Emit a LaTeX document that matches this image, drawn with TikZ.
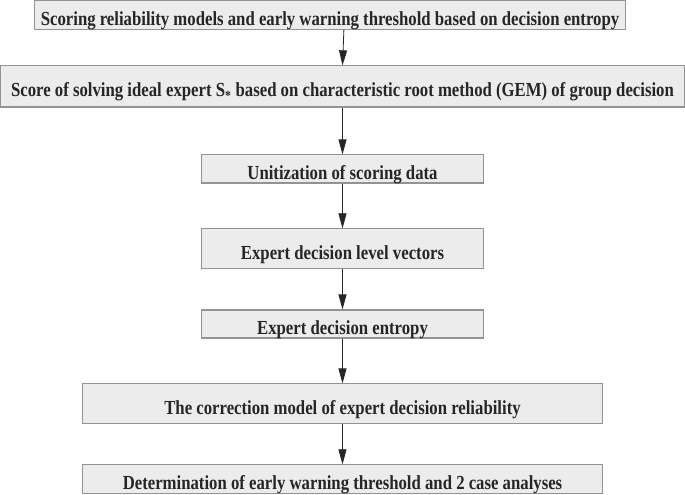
\documentclass[tikz,border=0pt]{standalone}
\usepackage{fontspec}
\setmainfont[FakeStretch=0.84]{Liberation Serif}
\usetikzlibrary{arrows.meta,positioning}

\begin{document}
\begin{tikzpicture}[
    box/.style={rectangle, draw=gray!85, line width=1.1bp, fill=gray!15, inner sep=0pt, text height=21bp, text depth=0pt, text=black!85, font=\fontsize{20}{23}\selectfont\bfseries},
    arrow/.style={-{Triangle[length=15bp, width=8bp]}, line width=0.8bp, black!85}
]
\useasboundingbox (-12.083, 0) rectangle (12.083, -17.43);

% Steps
\node[box, minimum width=20.82cm, minimum height=1.0cm] (title) at (-0.44, -0.53) {Scoring reliability models and early warning threshold based on decision entropy};
\node[box, minimum width=24.11cm, minimum height=1.45cm] (ideal) at (0, -3.05) {Score of solving ideal expert S\textsubscript{*} based on characteristic root method (GEM) of group decision};
\node[box, minimum width=9.98cm, minimum height=0.99cm] (unit) at (0, -5.96) {Unitization of scoring data};
\node[box, minimum width=9.98cm, minimum height=1.41cm] (level) at (0, -8.78) {Expert decision level vectors};
\node[box, minimum width=9.98cm, minimum height=0.99cm] (entropy) at (0, -11.43) {Expert decision entropy};
\node[box, minimum width=18.35cm, minimum height=1.41cm] (correct) at (0, -14.25) {The correction model of expert decision reliability};
\node[box, minimum width=18.35cm, minimum height=1.02cm] (threshold) at (0, -16.91) {Determination of early warning threshold and 2 case analyses};

% Arrows
\draw[arrow] ([xshift=0.49cm]title.south) -- (ideal.north);
\draw[arrow] (ideal) -- (unit);
\draw[arrow] (unit) -- (level);
\draw[arrow] (level) -- (entropy);
\draw[arrow] (entropy) -- (correct);
\draw[arrow] (correct) -- (threshold);

\end{tikzpicture}
\end{document}
